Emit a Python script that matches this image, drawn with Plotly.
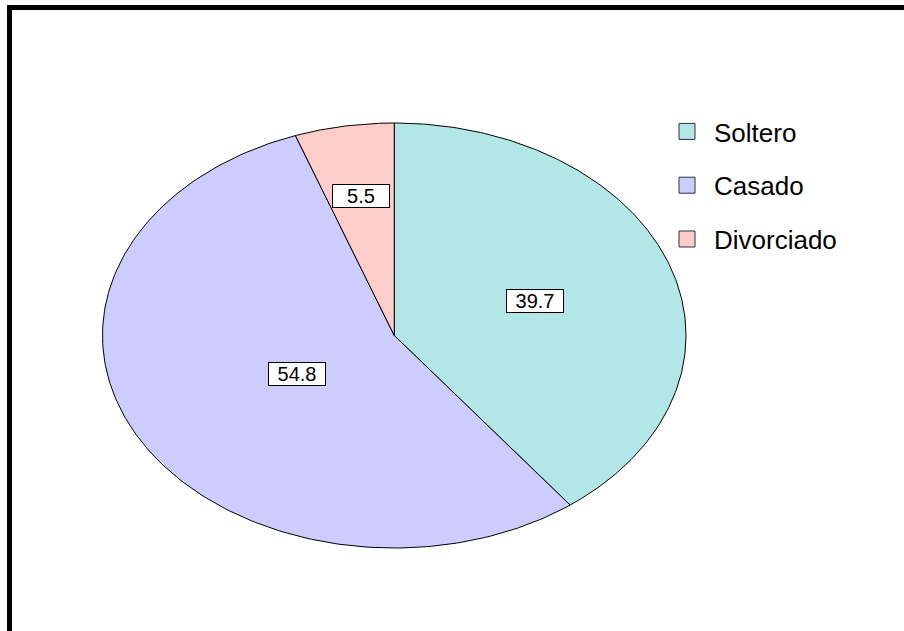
import numpy as np
import plotly.graph_objects as go

# ---- data ----
categories = ["Soltero", "Casado", "Divorciado"]
values = [39.7, 54.8, 5.5]

# ---- styles ----
colors = ["#B3E6E6", "#CCCCFF", "#FFCCCC"]
label_r = [0.51, 0.38, 0.665]          # radial position of each value label (fraction of radius)
W, H = 904, 631
CX, CY, RX, RY = 394.25, 335.5, 291.75, 212.5   # ellipse geometry in pixel axes
FONT = "Liberation Sans, Arial, sans-serif"

fig = go.Figure()

total = sum(values)
start = 0.0
for name, v, col, lr in zip(categories, values, colors, label_r):
    frac = v / total
    t = np.linspace(start, start + frac, 200) * 2 * np.pi
    xs = np.concatenate([[CX], CX + RX * np.sin(t), [CX]])
    ys = np.concatenate([[CY], CY - RY * np.cos(t), [CY]])
    fig.add_trace(go.Scatter(
        x=xs, y=ys, mode="lines", fill="toself", fillcolor=col,
        line=dict(color="#000000", width=1), name=name, showlegend=False,
        hoverinfo="skip"))
    mid = (start + frac / 2) * 2 * np.pi
    fig.add_annotation(
        x=CX + lr * RX * np.sin(mid), y=CY - lr * RY * np.cos(mid),
        text=f"{v:.1f}", showarrow=False,
        font=dict(family=FONT, size=20, color="black"),
        bgcolor="white", bordercolor="black", borderwidth=1, borderpad=0,
        width=56, height=22, valign="bottom")
    start += frac

# legend entries
for name, col in zip(categories, colors):
    fig.add_trace(go.Scatter(
        x=[None], y=[None], mode="markers", name=name, legendgroup=name,
        marker=dict(symbol="square", size=16, color=col,
                    line=dict(color="#333333", width=1))))

# outer frame
fig.add_shape(type="rect", xref="paper", yref="paper",
              x0=9.5 / W, y0=1 - 7.5 / H, x1=1.05, y1=-0.05,
              line=dict(color="black", width=5), fillcolor="rgba(0,0,0,0)")

fig.update_layout(
    width=W, height=H,
    margin=dict(l=0, r=0, t=0, b=0),
    paper_bgcolor="white", plot_bgcolor="white",
    xaxis=dict(range=[0, W], visible=False, fixedrange=True),
    yaxis=dict(range=[H, 0], visible=False, fixedrange=True),
    showlegend=True,
    legend=dict(x=660 / W, y=1 - 108 / H, xanchor="left", yanchor="top",
                font=dict(family=FONT, size=26, color="black"),
                itemwidth=44, tracegroupgap=17, bgcolor="rgba(0,0,0,0)"),
)

fig.write_html("out.html", config={"displayModeBar": False},
               post_script="document.body.style.margin='0';document.body.style.overflow='hidden';")
